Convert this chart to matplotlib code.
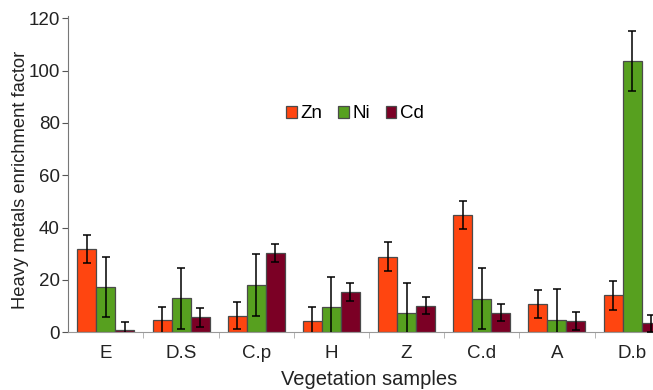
import numpy as np
import matplotlib
matplotlib.use("Agg")
import matplotlib.pyplot as plt

plt.rcParams["font.family"] = ["Liberation Sans", "DejaVu Sans"]

# vegetation samples and enrichment factors
samples = ["E", "D.S", "C.p", "H", "Z", "C.d", "A", "D.b"]
zn = [31.8, 4.6, 6.4, 4.5, 28.9, 44.7, 10.9, 14.1]
ni = [17.3, 13.0, 18.0, 9.8, 7.3, 12.8, 4.8, 103.7]
cd = [0.8, 5.7, 30.3, 15.4, 10.2, 7.5, 4.4, 3.4]
zn_err = [5.3, 5.2, 5.3, 5.3, 5.5, 5.3, 5.4, 5.4]
ni_err = [11.6, 11.6, 11.8, 11.4, 11.4, 11.6, 11.6, 11.4]
cd_err = [3.2, 3.5, 3.3, 3.4, 3.3, 3.3, 3.5, 3.3]

colors = {"Zn": "#FF4510", "Ni": "#57A01F", "Cd": "#7B0025"}
W = 0.253

fig = plt.figure(figsize=(6.53, 3.90), dpi=100)
ax = fig.add_axes([0.1046, 0.148, 0.921, 0.812])

x = np.arange(len(samples))
series = [("Zn", zn, zn_err, -W), ("Ni", ni, ni_err, 0.0), ("Cd", cd, cd_err, W)]
for name, vals, errs, off in series:
    ax.bar(x + off, vals, W, color=colors[name], edgecolor="#4a4a4a",
           linewidth=0.9, label=name, zorder=2)
    ax.errorbar(x + off, vals, yerr=errs, fmt="none", ecolor="black",
                elinewidth=1.1, capsize=3, capthick=1.1, zorder=3)

ax.set_xlim(-0.5, 7.5)
ax.set_ylim(0, 121)
ax.set_yticks([0, 20, 40, 60, 80, 100, 120])
ax.set_xticks(x)
ax.set_xticklabels(samples)
ax.set_xticks(np.arange(0.5, 7.5, 1.0), minor=True)
ax.tick_params(axis="x", which="major", length=0, pad=9, labelsize=13.5, labelcolor="#222222")
ax.tick_params(axis="x", which="minor", length=4, color="#aaaaaa", direction="out")
ax.tick_params(axis="y", length=4, color="#555555", labelsize=13.5, labelcolor="#222222", pad=2)

for s in ["top", "right"]:
    ax.spines[s].set_visible(False)
ax.spines["left"].set_color("#777777")
ax.spines["bottom"].set_color("#999999")

ax.set_ylabel("Heavy metals enrichment factor", fontsize=13.2, color="#222222")
ax.yaxis.set_label_coords(-0.066, 0.48)
ax.set_xlabel("Vegetation samples", fontsize=14.5, color="#222222", labelpad=6)

ax.legend(loc="center", bbox_to_anchor=(355 / 653, 1 - 114 / 390), bbox_transform=fig.transFigure,
          ncol=3, frameon=False, fontsize=13.5, handlelength=0.55, handleheight=0.55,
          handletextpad=0.2, columnspacing=0.85, borderpad=0)

fig.savefig("out.png", dpi=100)
